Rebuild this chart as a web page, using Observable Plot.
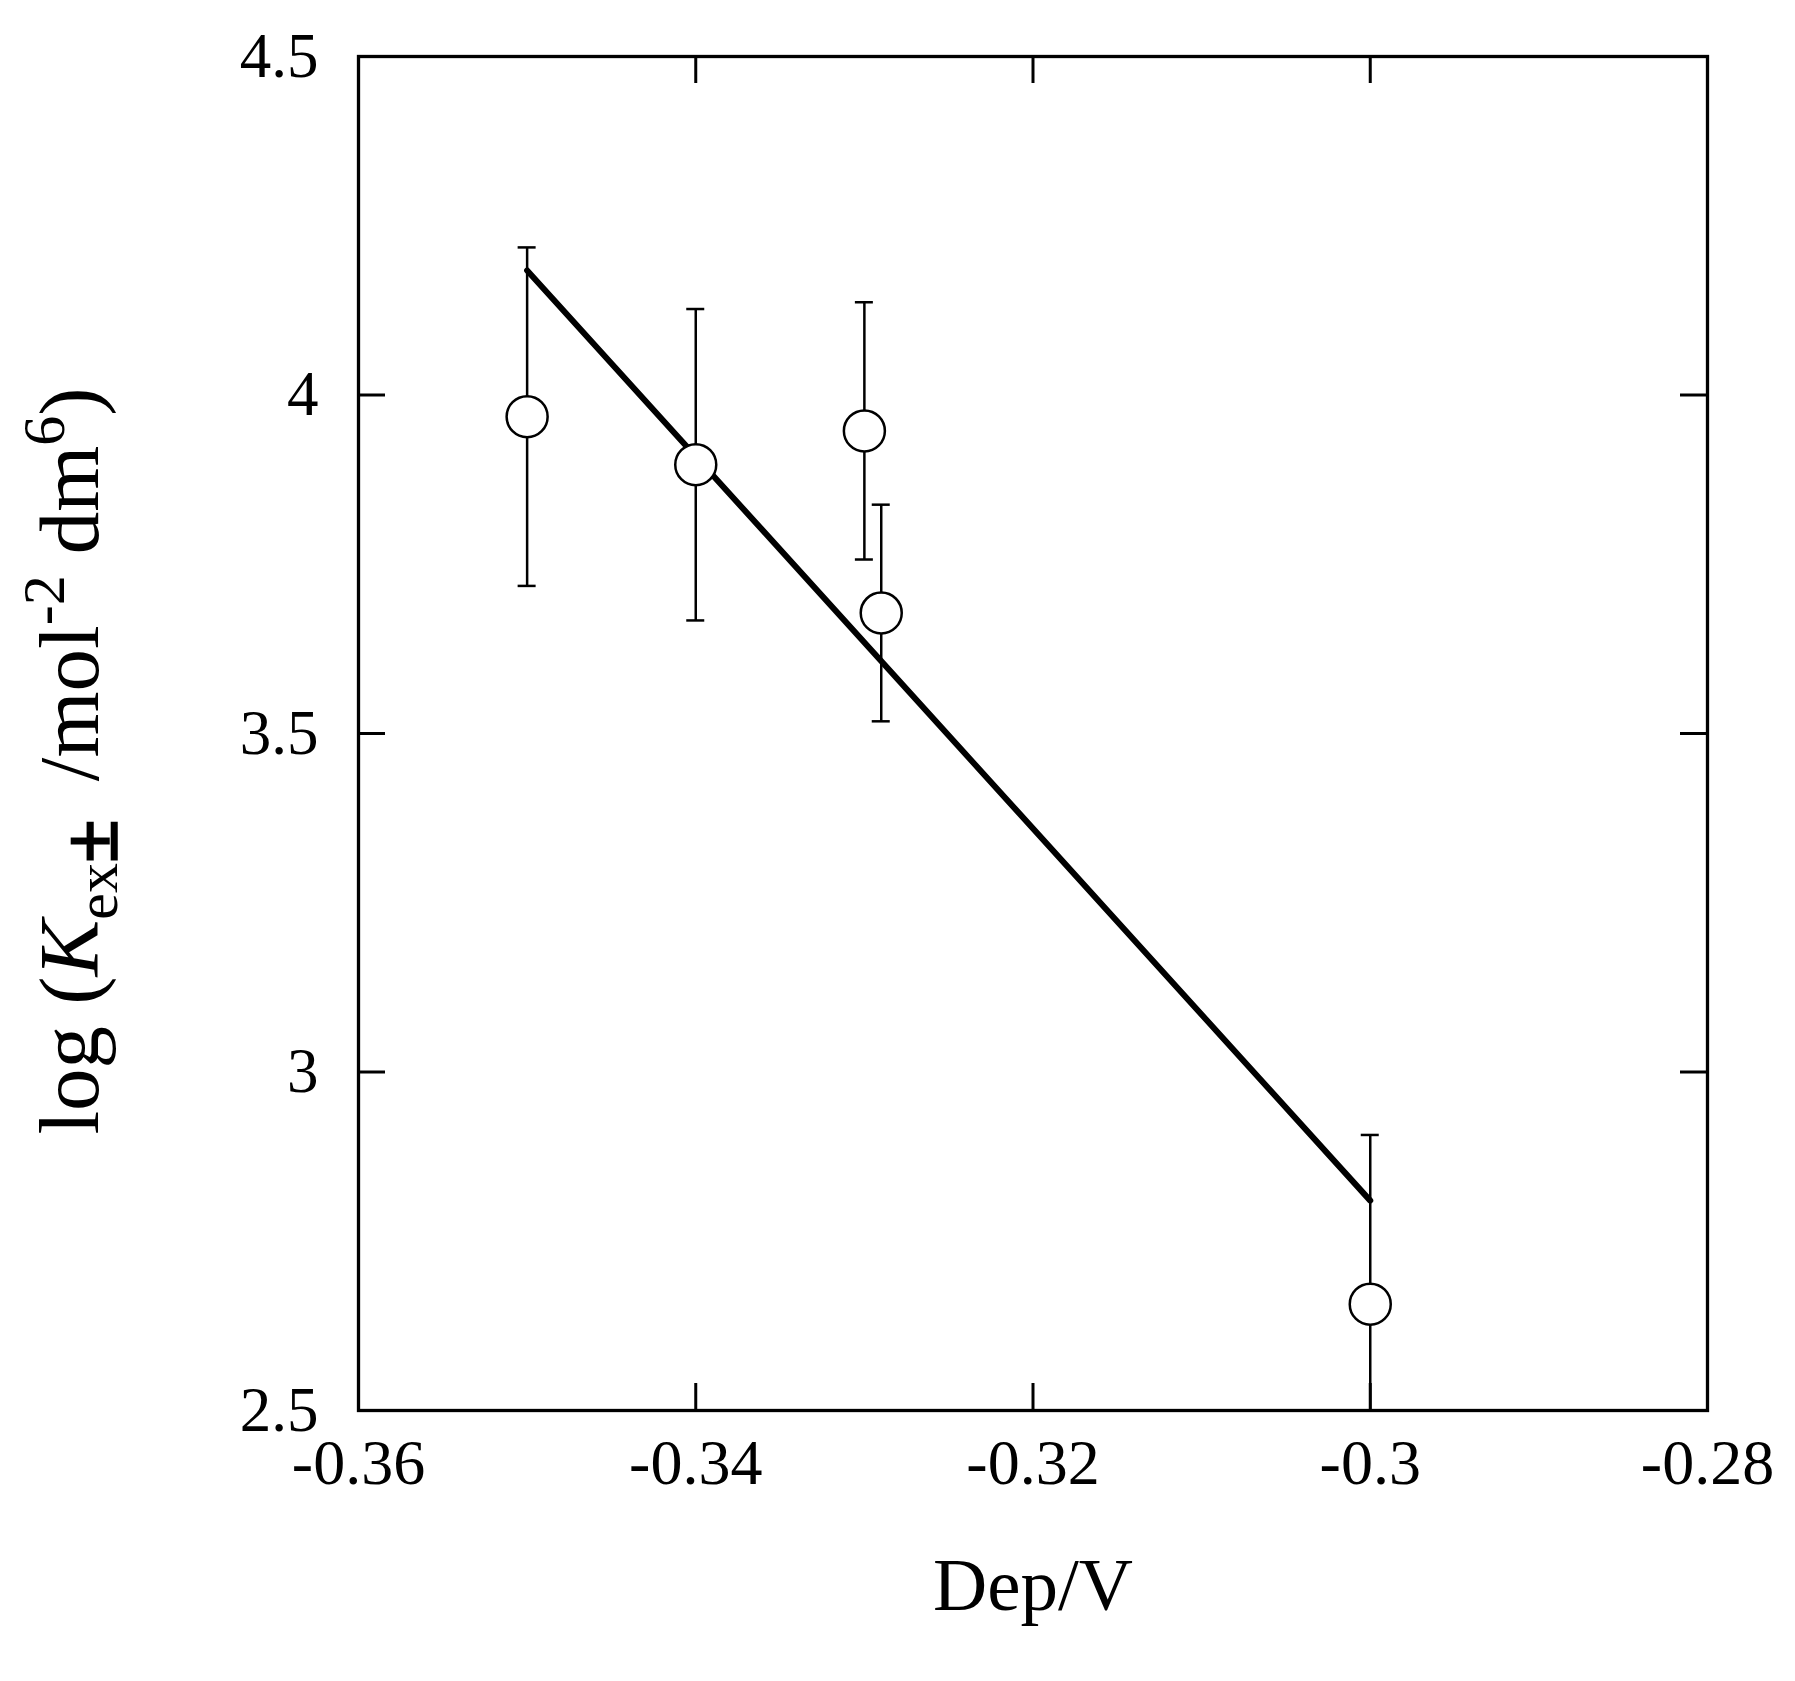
<!DOCTYPE html>
<html><head><meta charset="utf-8">
<script src="https://cdn.jsdelivr.net/npm/d3@7"></script>
<script src="https://cdn.jsdelivr.net/npm/@observablehq/plot@0.6"></script>
<style>body{margin:0;background:#fff} #chart{width:1795px;height:1681px}</style>
</head><body><div id="chart"></div>
<script>
// Data
const potentials = [-0.35, -0.34, -0.33, -0.329, -0.30];
const logK = [3.968, 3.897, 3.947, 3.678, 2.657];
const errors = [0.25, 0.23, 0.19, 0.16, 0.25];
const fitX = [-0.35, -0.30];
const fitY = [4.184, 2.810];
const xTicks = [-0.36, -0.34, -0.32, -0.30, -0.28];
const xTickLabels = ["-0.36", "-0.34", "-0.32", "-0.3", "-0.28"];
const yTicks = [2.5, 3, 3.5, 4, 4.5];
const yTickLabels = ["2.5", "3", "3.5", "4", "4.5"];
const xLabel = "Dep/V";

const points = potentials.map((x, i) => ({x, y: logK[i], lo: logK[i] - errors[i], hi: logK[i] + errors[i]}));
const fit = fitX.map((x, i) => ({x, y: fitY[i]}));

const W = 1795, H = 1681;
const mL = 358, mR = 88, mT = 56, mB = 271;
const innerW = W - mL - mR, innerH = H - mT - mB;
const tickLen = 27;
const font = "'Liberation Serif', 'Times New Roman', serif";
const lbl = (ticks, labels) => d => labels[ticks.findIndex(t => Math.abs(t - d) < 1e-9)];

const svg = Plot.plot({
  width: W, height: H,
  marginLeft: mL, marginRight: mR, marginTop: mT, marginBottom: mB,
  style: {fontFamily: font, background: "white", color: "black", overflow: "visible"},
  x: {domain: [-0.36, -0.28], label: null},
  y: {domain: [2.5, 4.5], label: null},
  marks: [
    // inward ticks on all four sides
    Plot.ruleX(xTicks, {insetTop: innerH - tickLen, stroke: "black", strokeWidth: 3}),
    Plot.ruleX(xTicks, {insetBottom: innerH - tickLen, stroke: "black", strokeWidth: 3}),
    Plot.ruleY(yTicks, {insetRight: innerW - tickLen, stroke: "black", strokeWidth: 3}),
    Plot.ruleY(yTicks, {insetLeft: innerW - tickLen, stroke: "black", strokeWidth: 3}),
    Plot.axisX({ticks: xTicks, tickFormat: lbl(xTicks, xTickLabels), tickSize: 0, tickPadding: 28, fontSize: 64, label: null}),
    Plot.axisY({ticks: yTicks, tickFormat: lbl(yTicks, yTickLabels), tickSize: 0, tickPadding: 40, fontSize: 63, label: null}),
    // error bars
    Plot.ruleX(points, {x: "x", y1: "lo", y2: "hi", stroke: "black", strokeWidth: 2.5, clip: true}),
    Plot.ruleY(points, {y: "hi", x1: "x", x2: "x", insetLeft: -9, insetRight: -9, stroke: "black", strokeWidth: 2.5, clip: true}),
    Plot.ruleY(points, {y: "lo", x1: "x", x2: "x", insetLeft: -9, insetRight: -9, stroke: "black", strokeWidth: 2.5, clip: true}),
    // fitted line
    Plot.line(fit, {x: "x", y: "y", stroke: "black", strokeWidth: 6}),
    // data points
    Plot.dot(points, {x: "x", y: "y", r: 20.5, fill: "white", stroke: "black", strokeWidth: 2.5}),
    Plot.frame({stroke: "black", strokeWidth: 3.3}),
    Plot.text([xLabel], {frameAnchor: "bottom", dy: 199, fontSize: 75, fill: "black"})
  ]
});

// y-axis label with italic K, subscripts and superscripts
const yl = d3.select(svg).append("text")
  .attr("transform", "translate(98, 761) rotate(-90)")
  .attr("text-anchor", "middle")
  .attr("fill", "black")
  .style("font-family", font)
  .style("font-size", "85px");
yl.append("tspan").text("log (");
yl.append("tspan").style("font-style", "italic").text("K");
yl.append("tspan").attr("dy", 19).style("font-size", "60px").text("ex");
yl.append("tspan").style("font-size", "80px").style("font-weight", "bold").attr("stroke", "black").attr("stroke-width", 1.5).text("±");
yl.append("tspan").attr("dy", -19).attr("dx", 38).text("/mol");
yl.append("tspan").attr("dy", -34).style("font-size", "60px").text("-2");
yl.append("tspan").attr("dy", 34).attr("dx", 21).text("dm");
yl.append("tspan").attr("dy", -34).style("font-size", "60px").text("6");
yl.append("tspan").attr("dy", 34).text(")");

document.getElementById("chart").appendChild(svg);
</script>
</body></html>
